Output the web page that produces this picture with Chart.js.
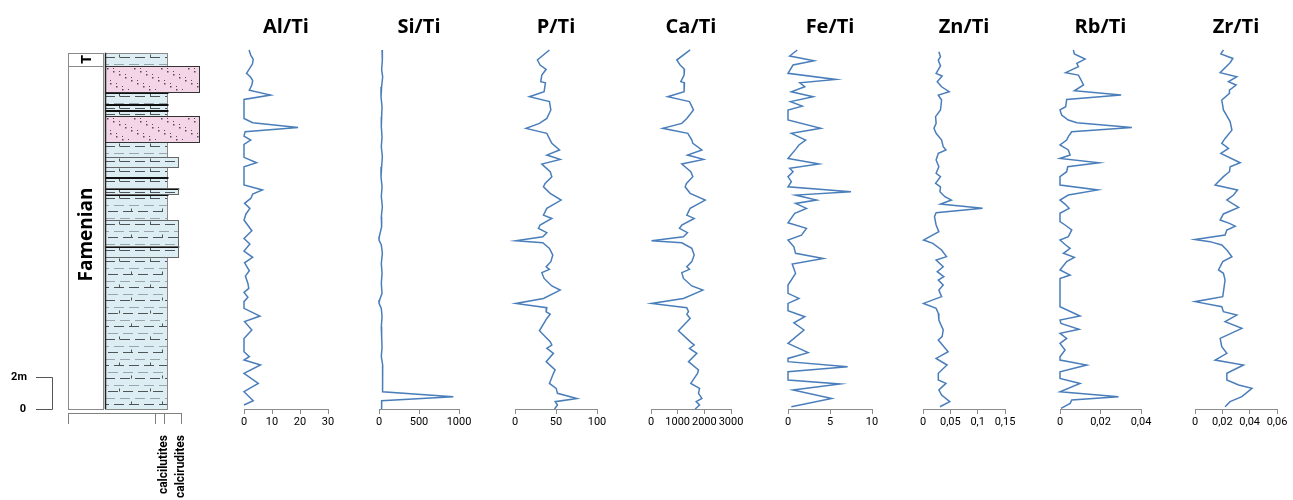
<!DOCTYPE html>
<html>
<head>
<meta charset="utf-8">
<script src="https://cdn.jsdelivr.net/npm/chart.js@4.4.1/dist/chart.umd.min.js"></script>
<style>
  body { margin: 0; background: #fff; }
  #wrap { position: relative; width: 1293px; height: 500px; overflow: hidden; }
  #wrap canvas { position: absolute; top: 0; }
</style>
</head>
<body>
<div id="wrap"></div>
<script>
const alTiHeight = [22.44, 22.12, 21.85, 21.56, 20.98, 20.73, 20.52, 20.25, 19.93, 19.62, 19.35, 18.16, 17.89, 17.60, 17.33, 17.06, 16.81, 16.54, 15.73, 15.39, 15.14, 14.00, 13.69, 13.43, 13.16, 12.85, 12.54, 12.19, 11.81, 11.14, 10.66, 10.31, 9.87, 9.48, 9.14, 8.64, 8.31, 7.85, 7.54, 7.29, 6.98, 6.71, 6.29, 5.81, 5.46, 4.94, 4.41, 3.58, 3.27, 3.06, 2.75, 2.23, 1.60, 1.08, 0.52, 0.25];
const alTi = [1.8, 2.4, 3.3, 3.0, 0.9, 2.4, 3.1, 2.8, 1.9, 9.5, 0, 0, 3.1, 19.3, 0.4, 0, 2.4, 0, 0, 4.5, 0, 0, 6.6, 3.1, 2.4, 0.2, 2.1, 0.7, 0, 2.8, 0, 2.1, 0, 3.1, 0.2, 1.9, 0.5, 1.4, 1.7, 0, 1.4, 0, 0, 5.7, 0.2, 2.8, 0, 0, 1.9, 0, 5.9, 0, 5.1, 0, 3.3, 0];

const siTiHeight = [22.44, 21.81, 21.19, 20.77, 20.14, 19.52, 18.89, 18.27, 17.64, 17.02, 16.39, 15.77, 15.14, 14.52, 13.89, 13.27, 12.64, 12.02, 11.39, 10.77, 10.56, 10.25, 9.73, 9.10, 8.48, 7.85, 7.23, 6.81, 6.60, 6.29, 5.77, 5.14, 4.52, 3.89, 3.27, 2.75, 2.23, 1.60, 1.08, 0.77, 0.52, 0.0];
const siTi = [38, 42, 33, 46, 33, 25, 38, 33, 29, 38, 29, 42, 33, 25, 38, 29, 42, 29, 33, 4, 0, 29, 42, 29, 38, 29, 38, 8, 0, 29, 38, 29, 33, 38, 29, 46, 42, 46, 46, 929, 33, 33];

const pCaHeight = [22.44, 21.81, 21.50, 21.23, 20.87, 20.46, 20.39, 19.83, 19.52, 19.21, 18.69, 18.16, 17.85, 17.54, 17.23, 16.81, 16.60, 16.19, 15.87, 15.60, 15.31, 14.83, 14.52, 14.10, 13.89, 13.48, 13.06, 12.54, 12.12, 11.91, 11.50, 11.29, 11.02, 10.77, 10.52, 10.39, 10.04, 9.62, 9.21, 8.89, 8.73, 8.52, 8.16, 7.69, 7.43, 6.91, 6.60, 6.33, 6.08, 5.93, 5.66, 4.89, 4.21, 4.00, 3.79, 3.48, 2.96, 2.44, 2.23, 1.60, 1.29, 0.98, 0.66, 0.46, 0.25, 0.0];
const pTi = [42.0, 27.3, 30.6, 38.0, 32.7, 31.4, 37.1, 35.5, 17.6, 42.0, 43.7, 38.8, 29.8, 13.5, 38.8, 42.9, 44.9, 54.3, 38.8, 55.1, 32.7, 42.9, 44.9, 36.7, 34.7, 42.9, 56.3, 38.8, 34.7, 44.9, 30.6, 28.6, 38.8, 33.9, 1, 33.9, 42.0, 46.1, 43.7, 38.0, 42.0, 32.7, 35.5, 44.9, 55.1, 34.7, 1, 38.8, 38.0, 42.9, 38.8, 29.8, 42.9, 44.9, 38.8, 46.9, 38.0, 49.0, 46.9, 42.0, 50.2, 51.8, 75.5, 49.0, 51.8, 48.2];
const caTi = [1468, 966, 1092, 1255, 1242, 1117, 1255, 1242, 628, 1443, 1594, 1343, 1155, 439, 1380, 1531, 1569, 1908, 1368, 1970, 1155, 1493, 1569, 1330, 1280, 1468, 2033, 1468, 1343, 1619, 1155, 1067, 1368, 1217, 20, 1155, 1531, 1619, 1531, 1343, 1443, 1155, 1217, 1531, 1945, 1217, 20, 1343, 1406, 1343, 1468, 1029, 1468, 1619, 1443, 1719, 1406, 1782, 1744, 1493, 1820, 1782, 1908, 1694, 1820, 1657];

const feTiHeight = [22.44, 22.06, 21.77, 21.50, 20.98, 20.60, 20.39, 20.14, 19.83, 19.52, 19.21, 18.93, 18.69, 18.06, 17.54, 17.23, 16.81, 16.50, 16.29, 15.66, 15.31, 15.04, 14.83, 14.52, 14.21, 13.89, 13.58, 13.37, 13.06, 12.85, 12.54, 12.23, 11.64, 11.29, 10.87, 10.56, 10.14, 9.73, 9.41, 9.06, 8.48, 7.75, 7.23, 6.91, 6.60, 6.14, 5.77, 5.39, 4.94, 4.10, 3.52, 3.16, 2.96, 2.64, 2.33, 1.81, 1.56, 1.19, 0.66, 0.14];
const feTi = [1.1, 0.2, 3.1, 0.6, 0, 5.7, 1.4, 2.0, 0.4, 3.0, 0.3, 1.7, 0, 0, 3.9, 0.4, 2.1, 1.3, 1.0, 0, 3.7, 0.2, 0.6, 0, 0.4, 0, 7.5, 0.9, 3.4, 0.9, 2.2, 0.8, 0, 2.2, 1.6, 0, 0.7, 0.9, 4.2, 0.5, 0.9, 0, 0, 1.3, 0, 0, 2.0, 0.7, 1.9, 0, 2.4, 0, 0, 7.1, 0, 0, 6.2, 0.6, 5.2, 0.4];

const znTiHeight = [22.33, 22.02, 21.81, 21.44, 20.98, 20.81, 20.46, 20.14, 19.83, 19.62, 19.31, 18.69, 18.27, 17.85, 17.54, 17.23, 16.81, 16.39, 16.19, 15.98, 15.56, 15.14, 14.73, 14.52, 14.10, 13.89, 13.58, 13.27, 13.06, 12.81, 12.54, 12.27, 12.02, 11.50, 11.08, 10.56, 10.35, 9.94, 9.52, 9.31, 8.89, 8.58, 8.27, 8.06, 7.75, 7.43, 7.02, 6.60, 6.29, 5.98, 5.56, 4.94, 4.52, 4.31, 3.58, 3.16, 2.75, 2.23, 1.81, 1.60, 1.19, 0.87, 0.46, 0.14];
const znTi = [0.029, 0.032, 0.028, 0.032, 0.024, 0.035, 0.026, 0.034, 0.048, 0.028, 0.034, 0.032, 0.023, 0.024, 0.020, 0.024, 0.034, 0.037, 0.042, 0.028, 0.024, 0.029, 0.024, 0.032, 0.023, 0.032, 0.031, 0.040, 0.052, 0.032, 0.109, 0.024, 0.021, 0.024, 0.029, 0.001, 0.018, 0.034, 0.043, 0.024, 0.037, 0.026, 0.038, 0.028, 0.037, 0.029, 0.034, 0.001, 0.024, 0.028, 0.029, 0.037, 0.035, 0.028, 0.046, 0.024, 0.044, 0.028, 0.028, 0.042, 0.029, 0.034, 0.049, 0.031];

const rbTiHeight = [22.44, 22.19, 21.87, 21.60, 21.39, 21.02, 20.87, 20.56, 20.25, 19.89, 19.62, 19.35, 18.89, 18.69, 18.37, 18.06, 17.89, 17.60, 17.33, 17.02, 16.81, 16.50, 16.19, 15.87, 15.66, 15.39, 15.14, 14.83, 14.52, 14.00, 13.69, 13.37, 13.06, 12.81, 12.54, 12.23, 11.71, 11.50, 11.19, 10.77, 10.56, 10.25, 10.04, 9.73, 9.48, 9.21, 8.69, 8.37, 8.16, 6.39, 5.81, 5.56, 5.35, 4.98, 4.73, 4.41, 4.10, 3.69, 3.27, 3.06, 2.75, 2.33, 1.91, 1.60, 1.08, 0.77, 0.56, 0.35, 0.04];
const rbTi = [0.0066, 0.0071, 0.0124, 0.0083, 0.0091, 0.0028, 0.0091, 0.0104, 0.0116, 0.0071, 0.0302, 0.0033, 0.0028, 0, 0.0008, 0.0041, 0.0083, 0.0355, 0.0058, 0.0041, 0.0033, 0, 0.0041, 0.005, 0, 0.0193, 0.0038, 0.0033, 0, 0, 0.0187, 0.0041, 0, 0.0025, 0.0045, 0, 0, 0.0025, 0.0058, 0.0041, 0, 0.0028, 0.005, 0.0017, 0.0071, 0.0033, 0, 0.005, 0, 0, 0.0099, 0, 0.0005, 0.0094, 0, 0.0033, 0, 0.0025, 0, 0, 0.0132, 0, 0, 0.0099, 0, 0.0289, 0.0058, 0.005, 0.0005];

const zrTiHeight = [22.44, 22.19, 21.91, 21.64, 21.02, 20.77, 20.46, 20.25, 19.93, 19.73, 19.31, 18.69, 17.96, 17.43, 16.91, 16.60, 16.29, 15.98, 15.39, 15.14, 14.83, 14.52, 14.00, 13.69, 13.37, 13.06, 12.60, 12.19, 11.81, 11.60, 11.43, 11.19, 10.87, 10.60, 10.46, 10.25, 9.94, 9.52, 9.21, 8.69, 8.48, 8.06, 7.02, 6.71, 6.39, 6.08, 5.87, 5.46, 5.04, 4.41, 3.89, 3.48, 3.06, 2.75, 2.23, 1.81, 1.50, 1.29, 0.77, 0.46, 0.14];
const zrTi = [0.0208, 0.0189, 0.0277, 0.0257, 0.0184, 0.0306, 0.0245, 0.0301, 0.0252, 0.0252, 0.0196, 0.0208, 0.0257, 0.027, 0.022, 0.0196, 0.0245, 0.0189, 0.0331, 0.0257, 0.0252, 0.0208, 0.0147, 0.0311, 0.0282, 0.0233, 0.0319, 0.0208, 0.0184, 0.0252, 0.0294, 0.0233, 0.022, 0, 0.011, 0.0196, 0.0233, 0.027, 0.0203, 0.0172, 0.0208, 0.022, 0.0203, 0, 0.0196, 0.0208, 0.0306, 0.022, 0.0343, 0.0184, 0.0196, 0.0233, 0.0147, 0.0355, 0.0233, 0.0233, 0.0319, 0.0417, 0.0343, 0.0257, 0.022];

// axis ticks
const alTiTicks = [0, 10, 20, 30];
const siTiTicks = [0, 500, 1000];
const pTiTicks = [0, 50, 100];
const caTiTicks = [0, 1000, 2000, 3000];
const feTiTicks = [0, 5, 10];
const znTiTicks = [0, 0.05, 0.1, 0.15];
const rbTiTicks = [0, 0.02, 0.04];
const zrTiTicks = [0, 0.02, 0.04, 0.06];

// lithological column (m)
const bedTop  = [22.27, 21.44, 19.79, 19.04, 18.69, 18.31, 16.71, 15.77, 15.14, 14.52, 13.81, 13.44, 11.81, 10.19, 9.52];
const bedBase = [21.44, 19.79, 19.04, 18.69, 18.31, 16.71, 15.77, 15.14, 14.52, 13.81, 13.44, 11.81, 10.19, 9.52, 0];
const bedType = ['L', 'S', 'L', 'L', 'L', 'S', 'L', 'R', 'L', 'L', 'R', 'L', 'R', 'R', 'L'];
const bedDarkTop = [0, 0, 1, 1, 1, 0, 0, 0, 0, 1, 1, 1, 0, 1, 0];
const stageName = ['T', 'Famenian'];
const stageTop = [22.27, 21.44];
const stageBase = [21.44, 0];
const scaleBar = [0, 2];
const lithoTicks = [0, 7.7, 8.5, 10];
const lithoLabels = ['', '', 'calcilutites', 'calcirudites'];

const wrap = document.getElementById('wrap');
const lineColor = '#4a7ebb';
const tickFont = { family: "'Liberation Sans Narrow', 'Roboto', sans-serif", size: 11 };
const fmt = v => String(v).replace('.', ',');

const panels = [
    { title: 'Al/Ti', h: alTiHeight, v: alTi, ticks: alTiTicks, x0: 244, x1: 328 },
    { title: 'Si/Ti', h: siTiHeight, v: siTi, ticks: siTiTicks, x0: 379, x1: 459 },
    { title: 'P/Ti', h: pCaHeight, v: pTi, ticks: pTiTicks, x0: 515, x1: 597 },
    { title: 'Ca/Ti', h: pCaHeight, v: caTi, ticks: caTiTicks, x0: 651, x1: 731 },
    { title: 'Fe/Ti', h: feTiHeight, v: feTi, ticks: feTiTicks, x0: 788, x1: 872 },
    { title: 'Zn/Ti', h: znTiHeight, v: znTi, ticks: znTiTicks, x0: 923, x1: 1005 },
    { title: 'Rb/Ti', h: rbTiHeight, v: rbTi, ticks: rbTiTicks, x0: 1060, x1: 1141 },
    { title: 'Zr/Ti', h: zrTiHeight, v: zrTi, ticks: zrTiTicks, x0: 1195, x1: 1277 }
];

function addCanvas(left, width, height) {
    const cv = document.createElement('canvas');
    cv.width = width;
    cv.height = height;
    cv.style.left = left + 'px';
    wrap.appendChild(cv);
    return cv;
}

// one small chart per ratio
panels.forEach(p => {
    const cv = addCanvas(p.x0 - 30, (p.x1 - p.x0) + 60, 431);
    new Chart(cv, {
        type: 'scatter',
        data: {
            datasets: [{
                data: p.h.map((h, i) => ({ x: p.v[i], y: h })),
                showLine: true,
                borderColor: lineColor,
                borderWidth: 1.5,
                pointRadius: 0,
                tension: 0,
                clip: false
            }]
        },
        options: {
            responsive: false,
            animation: false,
            events: [],
            layout: { padding: { left: 30, right: 30, top: 0, bottom: 0 } },
            plugins: {
                legend: { display: false },
                tooltip: { enabled: false },
                title: {
                    display: true,
                    text: p.title,
                    color: '#000',
                    font: { family: "'Open Sans', sans-serif", size: 20, weight: 'bold', lineHeight: 1.2 },
                    padding: { top: 15, bottom: 10 }
                }
            },
            scales: {
                x: {
                    type: 'linear',
                    min: 0,
                    max: p.ticks[p.ticks.length - 1],
                    afterBuildTicks: s => { s.ticks = p.ticks.map(v => ({ value: v })); },
                    afterFit: s => { s.height = 22; },
                    grid: { drawOnChartArea: false, tickLength: 5, color: '#8c8c8c' },
                    border: { color: '#8c8c8c' },
                    ticks: { font: tickFont, color: '#000', padding: 2, maxRotation: 0, autoSkip: false, callback: v => fmt(v) }
                },
                y: { display: false, min: 0, max: 22.5 }
            }
        }
    });
});

// drawing of the lithological log on the column chart's scales
const lithoRight = { L: 8.8, R: 9.75, S: 11.6 };
const colLeft = 3.27;
const stageRight = 3.1;

function drawLimestone(ctx, x0, y0, x1, y1) {
    ctx.fillStyle = '#dcedf4';
    ctx.fillRect(x0, y0, x1 - x0, y1 - y0);
    ctx.lineWidth = 1;
    let row = 0;
    for (let yy = y0 + 4; yy < y1 - 1; yy += 6.5, row++) {
        const py = Math.round(yy) + 0.5;
        ctx.strokeStyle = row % 2 ? '#9aa6ab' : '#4f5457';
        ctx.setLineDash([10, 5]);
        ctx.lineDashOffset = (row % 3) * 6;
        ctx.beginPath();
        ctx.moveTo(x0, py);
        ctx.lineTo(x1, py);
        ctx.stroke();
        ctx.setLineDash([]);
        if (row % 2 === 0) {
            for (let xx = x0 + 14 + (row % 4) * 6; xx < x1 - 4; xx += 31) {
                ctx.beginPath();
                ctx.moveTo(Math.round(xx) + 0.5, py);
                ctx.lineTo(Math.round(xx) + 0.5, py - 3);
                ctx.stroke();
            }
        }
    }
}

function drawSandy(ctx, x0, y0, x1, y1) {
    ctx.fillStyle = '#f3d5e7';
    ctx.fillRect(x0, y0, x1 - x0, y1 - y0);
    ctx.fillStyle = '#5a4a55';
    let iy = 0;
    for (let yy = y0 + 2; yy < y1 - 1; yy += 3, iy++) {
        let ix = 0;
        for (let xx = x0 + 2; xx < x1 - 1; xx += 3, ix++) {
            const k = (ix * 7 + iy * 13) % 9;
            if (k === 0) ctx.fillRect(Math.round(xx), Math.round(yy), 1.5, 1.5);
            else if (k === 5) ctx.fillRect(Math.round(xx), Math.round(yy), 1, 1);
        }
    }
}

const columnPlugin = {
    id: 'column',
    afterDraw(chart) {
        const { ctx } = chart;
        const x = chart.scales.x, y = chart.scales.y;
        ctx.save();

        // stages
        stageName.forEach((name, i) => {
            const xa = x.getPixelForValue(0), xb = x.getPixelForValue(stageRight);
            const ya = y.getPixelForValue(stageTop[i]), yb = y.getPixelForValue(stageBase[i]);
            ctx.strokeStyle = '#8a8a8a';
            ctx.lineWidth = 1;
            ctx.strokeRect(Math.round(xa) + 0.5, Math.round(ya) + 0.5, Math.round(xb - xa), Math.round(yb - ya));
            ctx.save();
            ctx.translate((xa + xb) / 2, (ya + yb) / 2);
            ctx.rotate(-Math.PI / 2);
            ctx.fillStyle = '#000';
            ctx.textAlign = 'center';
            ctx.textBaseline = 'middle';
            ctx.font = (i === 0 ? 'bold 15px' : 'bold 19px') + " 'Open Sans', sans-serif";
            ctx.fillText(name, i === 0 ? 0 : 3, 1);
            ctx.restore();
        });

        // beds
        bedTop.forEach((t, i) => {
            const xa = Math.round(x.getPixelForValue(colLeft));
            const xb = Math.round(x.getPixelForValue(lithoRight[bedType[i]]));
            const ya = Math.round(y.getPixelForValue(t));
            const yb = Math.round(y.getPixelForValue(bedBase[i]));
            ctx.save();
            ctx.beginPath();
            ctx.rect(xa, ya, xb - xa, yb - ya);
            ctx.clip();
            if (bedType[i] === 'S') drawSandy(ctx, xa, ya, xb, yb);
            else drawLimestone(ctx, xa, ya, xb, yb);
            ctx.restore();
            ctx.strokeStyle = '#8a8a8a';
            ctx.lineWidth = 1;
            ctx.strokeRect(xa + 0.5, ya + 0.5, xb - xa, yb - ya);
        });
        bedTop.forEach((t, i) => {
            if (!bedDarkTop[i]) return;
            const xa = x.getPixelForValue(colLeft);
            const xb = x.getPixelForValue(lithoRight[bedType[i]]);
            const ya = Math.round(y.getPixelForValue(t));
            ctx.strokeStyle = '#111';
            ctx.lineWidth = 2;
            ctx.beginPath();
            ctx.moveTo(xa, ya + 1);
            ctx.lineTo(xb + 1, ya + 1);
            ctx.stroke();
        });
        // pink beds and wide beds keep a dark outline
        bedTop.forEach((t, i) => {
            if (bedType[i] === 'L') return;
            const xa = Math.round(x.getPixelForValue(colLeft));
            const xb = Math.round(x.getPixelForValue(lithoRight[bedType[i]]));
            const ya = Math.round(y.getPixelForValue(t));
            const yb = Math.round(y.getPixelForValue(bedBase[i]));
            ctx.strokeStyle = bedType[i] === 'S' ? '#333' : '#666';
            ctx.lineWidth = 1;
            ctx.strokeRect(xa + 0.5, ya + 0.5, xb - xa, yb - ya);
        });
        const cx = Math.round(x.getPixelForValue(colLeft)) + 0.5;
        ctx.strokeStyle = '#222';
        ctx.lineWidth = 1.5;
        ctx.beginPath();
        ctx.moveTo(cx, y.getPixelForValue(bedTop[0]));
        ctx.lineTo(cx, y.getPixelForValue(0));
        ctx.stroke();

        // scale bar
        const y0 = Math.round(y.getPixelForValue(scaleBar[0])) + 0.5;
        const y2 = Math.round(y.getPixelForValue(scaleBar[1])) + 0.5;
        ctx.strokeStyle = '#555';
        ctx.lineWidth = 1;
        ctx.beginPath();
        ctx.moveTo(36, y2); ctx.lineTo(52.5, y2); ctx.lineTo(52.5, y0); ctx.lineTo(36, y0);
        ctx.stroke();
        ctx.fillStyle = '#000';
        ctx.font = "bold 11px 'Liberation Sans Narrow', 'Roboto', sans-serif";
        ctx.textAlign = 'center';
        ctx.textBaseline = 'middle';
        ctx.fillText(scaleBar[1] + 'm', 19, y2);
        ctx.fillText(String(scaleBar[0]), 23, y0);
        ctx.restore();
    }
};

const colCanvas = addCanvas(0, 220, 500);
new Chart(colCanvas, {
    type: 'scatter',
    data: { datasets: [] },
    options: {
        responsive: false,
        animation: false,
        events: [],
        layout: { padding: { left: 68, right: 39, top: 49, bottom: 0 } },
        plugins: { legend: { display: false }, tooltip: { enabled: false } },
        scales: {
            x: {
                type: 'linear',
                min: 0,
                max: 10,
                afterBuildTicks: s => { s.ticks = lithoTicks.map(v => ({ value: v })); },
                afterFit: s => { s.height = 87; },
                grid: { drawOnChartArea: false, tickLength: 11, color: '#808080' },
                border: { color: '#808080' },
                ticks: {
                    minRotation: 90,
                    maxRotation: 90,
                    autoSkip: false,
                    padding: 11,
                    color: '#000',
                    font: { family: "'Liberation Sans Narrow', 'Roboto', sans-serif", size: 12, weight: 'bold' },
                    callback: (v, i) => lithoLabels[i]
                }
            },
            y: { display: false, min: -0.25, max: 22.5 }
        }
    },
    plugins: [columnPlugin]
});
</script>
</body>
</html>
